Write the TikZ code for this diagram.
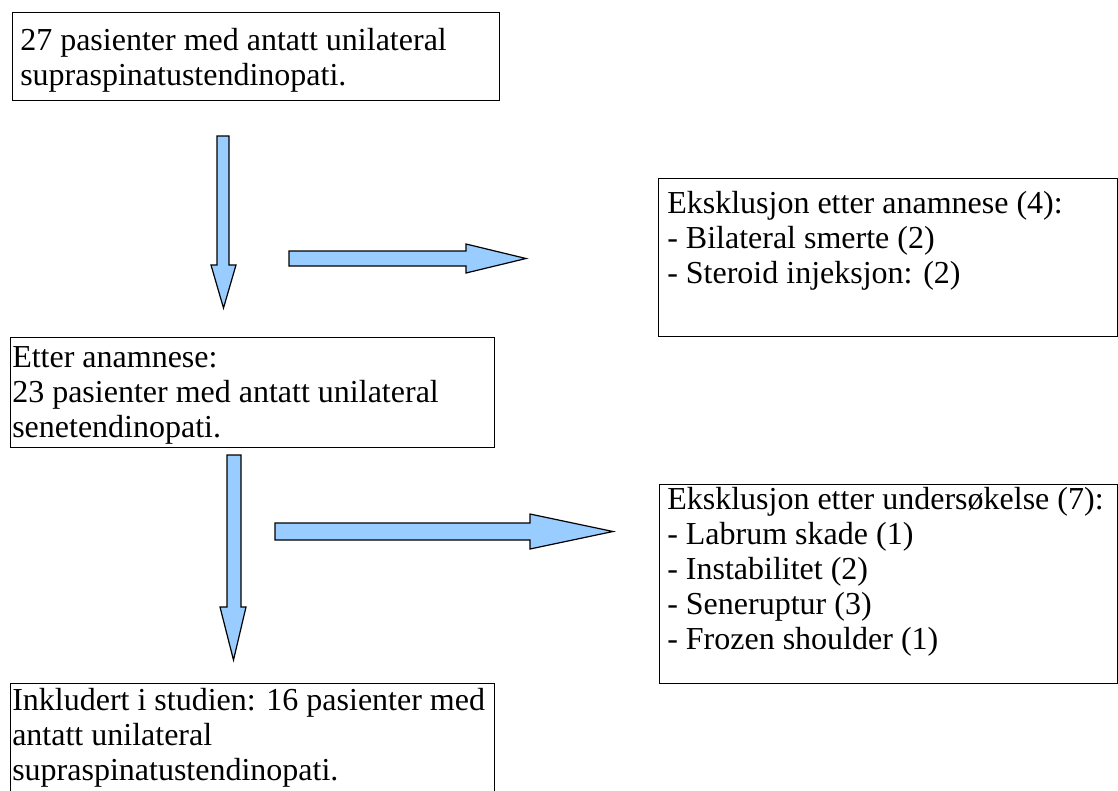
\documentclass[tikz,border=0pt]{standalone}
\usepackage{fontspec}
\setmainfont{Liberation Serif}
\usetikzlibrary{fit}
\definecolor{arrowfill}{RGB}{153,204,255}
\tikzset{
  box/.style={draw=black, line width=0.75pt, inner sep=0pt, fill=none},
  txt/.style={anchor=base west, inner sep=0pt, font=\fontsize{24}{26.25}\selectfont},
  blockarrow/.style={draw=black, fill=arrowfill, line width=0.9pt, line join=miter},
}
\begin{document}
\begin{tikzpicture}[x=0.75pt, y=-0.75pt]
\useasboundingbox (0,0) rectangle (1118,790);
% boxes
\node[box, fit={(12,12) (499,100)}] (b1) {};
\node[box, fit={(658,178) (1117,336)}] (b2) {};
\node[box, fit={(10,337) (494,447)}] (b3) {};
\node[box, fit={(659,484) (1117,683)}] (b4) {};
\node[box, fit={(10,683) (494,800)}] (b5) {};
% texts
\node[txt] (t1) at (20,50) {\begin{tabular}[t]{@{}l@{}}27 pasienter med antatt unilateral\\supraspinatustendinopati.\end{tabular}};
\node[txt] (t2) at (667,213) {\begin{tabular}[t]{@{}l@{}}Eksklusjon etter anamnese (4):\\- Bilateral smerte (2)\\- Steroid injeksjon: (2)\end{tabular}};
\node[txt] (t3) at (12,367) {\begin{tabular}[t]{@{}l@{}}Etter anamnese:\\23 pasienter med antatt unilateral\\senetendinopati.\end{tabular}};
\node[txt] (t4) at (667,509) {\begin{tabular}[t]{@{}l@{}}Eksklusjon etter undersøkelse (7):\\- Labrum skade (1)\\- Instabilitet (2)\\- Seneruptur (3)\\- Frozen shoulder (1)\end{tabular}};
\node[txt] (t5) at (12,710) {\begin{tabular}[t]{@{}l@{}}Inkludert i studien: 16 pasienter med\\antatt unilateral\\supraspinatustendinopati.\end{tabular}};
% block arrows
\draw[blockarrow] (217,136) -- (229,136) -- (229,265) -- (236,265) -- (223.5,308) -- (211,265) -- (217,265) -- cycle;
\draw[blockarrow] (289,251) -- (466,251) -- (466,244) -- (526,258.5) -- (466,273) -- (466,266) -- (289,266) -- cycle;
\draw[blockarrow] (227,455) -- (241,455) -- (241,607) -- (246,607) -- (233.5,660) -- (220,607) -- (227,607) -- cycle;
\draw[blockarrow] (275,523) -- (530,523) -- (530,514) -- (613,531.5) -- (530,549) -- (530,540) -- (275,540) -- cycle;
\end{tikzpicture}
\end{document}
